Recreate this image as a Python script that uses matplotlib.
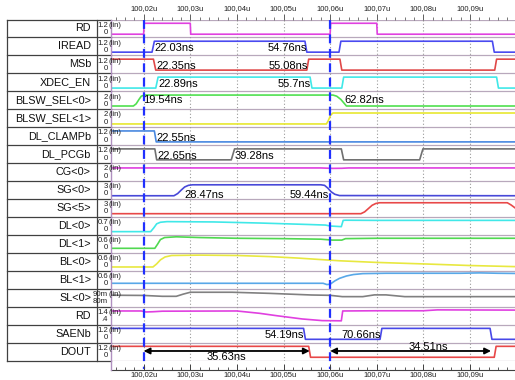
import matplotlib
matplotlib.use('Agg')
import matplotlib.pyplot as plt
from matplotlib.lines import Line2D
from matplotlib.ticker import FixedLocator, MultipleLocator

plt.rcParams['font.family'] = ['Liberation Sans', 'DejaVu Sans']

# ---------------- data ----------------
row_names = ["RD", "IREAD", "MSb", "XDEC_EN", "BLSW_SEL<0>", "BLSW_SEL<1>",
             "DL_CLAMPb", "DL_PCGb", "CG<0>", "SG<0>", "SG<5>", "DL<0>", "DL<1>",
             "BL<0>", "BL<1>", "SL<0>", "RD", "SAENb", "DOUT"]
scale_top = ["1.2", "1.2", "1.2", "1.2", "2", "2", "1.2", "1.2", "2", "3", "3",
             "0.7", "0.6", "0.6", "0.6", "90m", "1.4", "1.2", "1.2"]
scale_bot = ["0", "0", "0", "0", "0", "0", "0", "0", "0", "0", "0",
             "0", "0", "0", "0", "80m", ".4", "0", "0"]
vmax = [1.2, 1.2, 1.2, 1.2, 2, 2, 1.2, 1.2, 2, 3, 3, 0.7, 0.6, 0.6, 0.6, 90, 1.4, 1.2, 1.2]
vmin = [0, 0, 0, 0, 0, 0, 0, 0, 0, 0, 0, 0, 0, 0, 0, 80, 0.4, 0, 0]

tick_times = [20, 30, 40, 50, 60, 70, 80, 90]          # ns after 100u
tick_labels = ["100,02u", "100,03u", "100,04u", "100,05u",
               "100,06u", "100,07u", "100,08u", "100,09u"]
cursor_times = [20, 60]

RD_t = [13, 20, 20.1, 30, 30.1, 60, 60.1, 70, 70.1, 99.65]
RD_v = [0, 0, 1.2, 1.2, 0, 0, 1.2, 1.2, 0, 0]
IREAD_t = [13, 21.8, 22.3, 54.6, 55.0, 61.9, 62.3, 94.8, 95.2, 99.65]
IREAD_v = [0, 0, 1.2, 1.2, 0, 0, 1.2, 1.2, 0, 0]
MSB_t = [13, 22.1, 22.6, 55.0, 55.4, 62.1, 62.5, 95.3, 95.7, 99.65]
MSB_v = [1.2, 1.2, 0, 0, 1.2, 1.2, 0, 0, 1.2, 1.2]
XDEC_t = [13, 22.6, 23.1, 55.7, 56.1, 62.5, 62.9, 95.7, 96.1, 99.65]
XDEC_v = [0, 0, 1.2, 1.2, 0, 0, 1.2, 1.2, 0, 0]
BLSW0_t = [13, 17.8, 18.4, 19.0, 19.5, 20.2, 60.6, 61.4, 62.3, 63.0, 63.5, 99.65]
BLSW0_v = [0, 0, 0.4, 1.2, 1.8, 2.0, 2.0, 1.8, 1.2, 0.5, 0, 0]
BLSW1_t = [13, 59.2, 59.6, 60.1, 60.6, 99.65]
BLSW1_v = [0, 0, 0.6, 1.6, 2.0, 2.0]
CLAMP_t = [13, 22.3, 22.7, 99.65]
CLAMP_v = [1.2, 1.2, 0, 0]
PCG_t = [13, 22.4, 22.8, 38.8, 39.5, 62.4, 62.9, 79.2, 79.9, 99.65]
PCG_v = [1.2, 1.2, 0, 0, 1.2, 1.2, 0, 0, 1.2, 1.2]
CG0_t = [13, 58, 60.5, 62.5, 64, 99.65]
CG0_v = [1.8, 1.8, 1.72, 1.74, 1.8, 1.8]
SG0_t = [13, 26.5, 27.3, 28.1, 28.8, 29.6, 30.5, 58.0, 58.8, 59.5, 60.2, 61.0, 62.0, 99.65]
SG0_v = [0, 0, 0.6, 1.6, 2.4, 2.85, 3.0, 3.0, 2.85, 2.1, 1.1, 0.4, 0.05, 0]
SG5_t = [13, 66.6, 67.4, 68.2, 69.0, 69.8, 70.6, 98.0, 98.8, 99.65]
SG5_v = [0, 0, 0.5, 1.4, 2.3, 2.8, 3.0, 3.0, 2.4, 1.6]
DL0_t = [13, 21.5, 22.2, 22.8, 23.6, 25, 35, 45, 55, 59, 60, 62.4, 62.8, 63.3, 70, 99.65]
DL0_v = [0, 0, 0.25, 0.5, 0.6, 0.64, 0.62, 0.55, 0.46, 0.42, 0.36, 0.32, 0.72, 0.73, 0.72, 0.72]
DL1_t = [13, 22.4, 23.0, 23.6, 24.5, 27, 32, 40, 50, 58, 60.5, 62.5, 63.3, 70, 99.65]
DL1_v = [0.07, 0.07, 0.3, 0.55, 0.66, 0.7, 0.66, 0.62, 0.6, 0.57, 0.52, 0.52, 0.6, 0.62, 0.62]
BL0_t = [13, 22, 22.8, 23.6, 24.6, 26, 32, 40, 47, 53, 59, 62, 70, 81, 90, 99.65]
BL0_v = [0.03, 0.03, 0.2, 0.42, 0.58, 0.66, 0.68, 0.66, 0.6, 0.52, 0.42, 0.37, 0.28, 0.19, 0.11, 0.05]
BL1_t = [13, 58.5, 59.3, 60.0, 61.0, 62.0, 63.5, 65, 67, 72, 88, 92, 96, 99.65]
BL1_v = [0.12, 0.12, 0.05, 0.07, 0.25, 0.39, 0.52, 0.6, 0.65, 0.67, 0.67, 0.69, 0.67, 0.66]
SL0_t = [13, 20, 24, 27, 28.5, 30, 39, 47, 56, 60, 62.6, 67, 69.5, 72, 76, 99.65]
SL0_v = [87.5, 87.3, 86.5, 86.5, 88.5, 90.2, 90.2, 89.2, 87.7, 87.4, 86.2, 86.2, 87.8, 87.8, 86.2, 86.2]
RD2_t = [13, 19.5, 20.5, 22, 24, 40, 44.8, 48.5, 54, 58.3, 62.4, 62.7, 70, 80, 83, 99.65]
RD2_v = [1.35, 1.35, 1.26, 1.28, 1.33, 1.35, 1.14, 0.92, 0.62, 0.47, 0.45, 1.35, 1.37, 1.37, 1.45, 1.43]
SAEN_t = [13, 54.3, 54.7, 70.7, 71.1, 94.3, 94.7, 99.65]
SAEN_v = [1.2, 1.2, 0, 0, 1.2, 1.2, 0, 0]
DOUT_t = [13, 55.4, 55.8, 95.2, 95.6, 99.65]
DOUT_v = [1.2, 1.2, 0, 0, 1.2, 1.2]

signals = [(RD_t, RD_v), (IREAD_t, IREAD_v), (MSB_t, MSB_v), (XDEC_t, XDEC_v),
           (BLSW0_t, BLSW0_v), (BLSW1_t, BLSW1_v), (CLAMP_t, CLAMP_v), (PCG_t, PCG_v),
           (CG0_t, CG0_v), (SG0_t, SG0_v), (SG5_t, SG5_v), (DL0_t, DL0_v),
           (DL1_t, DL1_v), (BL0_t, BL0_v), (BL1_t, BL1_v), (SL0_t, SL0_v),
           (RD2_t, RD2_v), (SAEN_t, SAEN_v), (DOUT_t, DOUT_v)]
colors = ['#e040e0', '#4a4af0', '#e04848', '#40e8e8', '#50e050', '#e8e830',
          '#4888e0', '#707070', '#e040e0', '#4848d8', '#e84848', '#40e8e8',
          '#50d850', '#e8e840', '#58a8e8', '#808080', '#e040e0', '#4848e8', '#e84848']

# (row index, time in ns, side of the edge)
edge_marks = [(1, 22.03, 'after'), (1, 54.76, 'before'),
              (2, 22.35, 'after'), (2, 55.08, 'before'),
              (3, 22.89, 'after'), (3, 55.7, 'before'),
              (4, 19.54, 'after'), (4, 62.82, 'after'),
              (6, 22.55, 'after'),
              (7, 22.65, 'after'), (7, 39.28, 'after'),
              (9, 28.47, 'after'), (9, 59.44, 'before'),
              (17, 54.19, 'before'), (17, 70.66, 'before')]
# delay measurements on DOUT row: (start, end, label)
delays = [(20.0, 55.63, "35.63ns"), (60.0, 94.51, "34.51ns")]

# ---------------- layout ----------------
W, H = 515, 380
PX_L, PX_R, PX_T, PX_B = 111, 515, 19.5, 360.5
T0, T1 = 13.0, 99.65
NR = len(row_names)
RH = (PX_B - PX_T) / NR
TOPF, BOTF = 0.21, 0.82


def fx(x):
    return x / W


def fy(y):
    return 1 - y / H


fig = plt.figure(figsize=(W / 100, H / 100), dpi=100)
fig.patch.set_facecolor('white')

ax = fig.add_axes([fx(PX_L), fy(PX_B), (PX_R - PX_L) / W, (PX_B - PX_T) / H])
ax.set_xlim(T0, T1)
ax.set_ylim(NR, 0)
for s in ax.spines.values():
    s.set_visible(False)
ax.set_yticks([])

# row separators
for i in range(NR + 1):
    ax.axhline(i, color='#b8a8bc', lw=0.9, zorder=1)
# grid
for t in tick_times:
    ax.axvline(t, color='#9a9a9a', lw=0.8, ls=(0, (1, 2)), zorder=1)


def ymap(i, v):
    return i + TOPF + (vmax[i] - v) / (vmax[i] - vmin[i]) * (BOTF - TOPF)


for i, ((ts, vs), c) in enumerate(zip(signals, colors)):
    ax.plot(ts, [ymap(i, v) for v in vs], color=c, lw=1.2, zorder=3,
            solid_joinstyle='round')

# cursors
for t in cursor_times:
    ax.plot([t, t], [0, NR + 0.45], color='#2030ff', lw=1.6, ls=(0, (4, 2.5)),
            zorder=5, clip_on=False)

# edge annotations
vfrac = {4: 0.47, 9: 0.76}
for i, t, side in edge_marks:
    y = i + vfrac.get(i, 0.58)
    if side == 'after':
        ax.text(t + 0.3, y, f"{t}ns", ha='left', va='center', fontsize=8, zorder=6)
    else:
        ax.text(t + 0.2, y, f"{t}ns", ha='right', va='center', fontsize=8, zorder=6)

# delay arrows on DOUT
iD = NR - 1
for k, (a, b, lab) in enumerate(delays):
    ya = iD + 0.47
    ax.annotate('', xy=(b, ya), xytext=(a, ya),
                arrowprops=dict(arrowstyle='<|-|>', color='black', lw=1.3,
                                mutation_scale=9, shrinkA=0, shrinkB=0), zorder=6)
    mid = (a + b) / 2
    if k == 0:
        ax.text(mid, iD + 0.82, lab, ha='center', va='center', fontsize=8, zorder=6)
    else:
        ax.text(mid + 3.9, iD + 0.22, lab, ha='center', va='center', fontsize=8, zorder=6)

# top ticks
ax.xaxis.set_ticks_position('top')
ax.xaxis.set_major_locator(FixedLocator(tick_times))
ax.set_xticklabels(tick_labels)
ax.xaxis.set_minor_locator(MultipleLocator(2))
ax.tick_params(axis='x', which='major', direction='out', length=4, width=0.7,
               color='#606060', labelsize=5.5, pad=1.5, labelcolor='#202020')
ax.tick_params(axis='x', which='minor', direction='out', length=2.2, width=0.6,
               color='#606060')

# bottom axis
AXB_Y = 369.5
axb = fig.add_axes([fx(PX_L), fy(AXB_Y), (PX_R - PX_L) / W, 1e-5])
axb.set_xlim(T0, T1)
axb.set_yticks([])
for k in ['top', 'left', 'right']:
    axb.spines[k].set_visible(False)
axb.spines['bottom'].set_color('#404040')
axb.spines['bottom'].set_linewidth(0.8)
axb.xaxis.set_major_locator(FixedLocator(tick_times))
axb.set_xticklabels(tick_labels)
axb.xaxis.set_minor_locator(MultipleLocator(2))
axb.tick_params(axis='x', which='major', direction='in', length=4.5, width=0.7,
                color='#404040', labelsize=5.5, pad=1.0, labelcolor='#202020')
axb.tick_params(axis='x', which='minor', direction='in', length=2.5, width=0.6,
                color='#404040')

# left plot border
fig.add_artist(Line2D([fx(PX_L), fx(PX_L)], [fy(PX_T), fy(AXB_Y)],
                      color='#b090c0', lw=1.0, zorder=4))

# left table
TL, TM = 7, 97
tc = '#404040'
fig.add_artist(Line2D([fx(TL), fx(TL)], [fy(PX_T), fy(PX_B)], color=tc, lw=0.9))
fig.add_artist(Line2D([fx(TM), fx(TM)], [fy(PX_T), fy(PX_B)], color=tc, lw=0.9))
for i in range(NR + 1):
    y = PX_T + i * RH
    fig.add_artist(Line2D([fx(TL), fx(PX_L)], [fy(y), fy(y)], color=tc, lw=0.9))

for i, name in enumerate(row_names):
    y0 = PX_T + i * RH
    fig.text(fx(91), fy(y0 + RH / 2), name, ha='right', va='center', fontsize=7.8,
             color='#101010')
    fig.text(fx(108), fy(y0 + 0.32 * RH), scale_top[i], ha='right', va='center',
             fontsize=5.6, color='#202020')
    fig.text(fx(108), fy(y0 + 0.72 * RH), scale_bot[i], ha='right', va='center',
             fontsize=5.6, color='#202020')
    fig.text(fx(108.5), fy(y0 + 0.32 * RH), "(lin)", ha='left', va='center',
             fontsize=5.6, color='#202020', zorder=7)

fig.savefig('out.png', dpi=100, facecolor='white')
